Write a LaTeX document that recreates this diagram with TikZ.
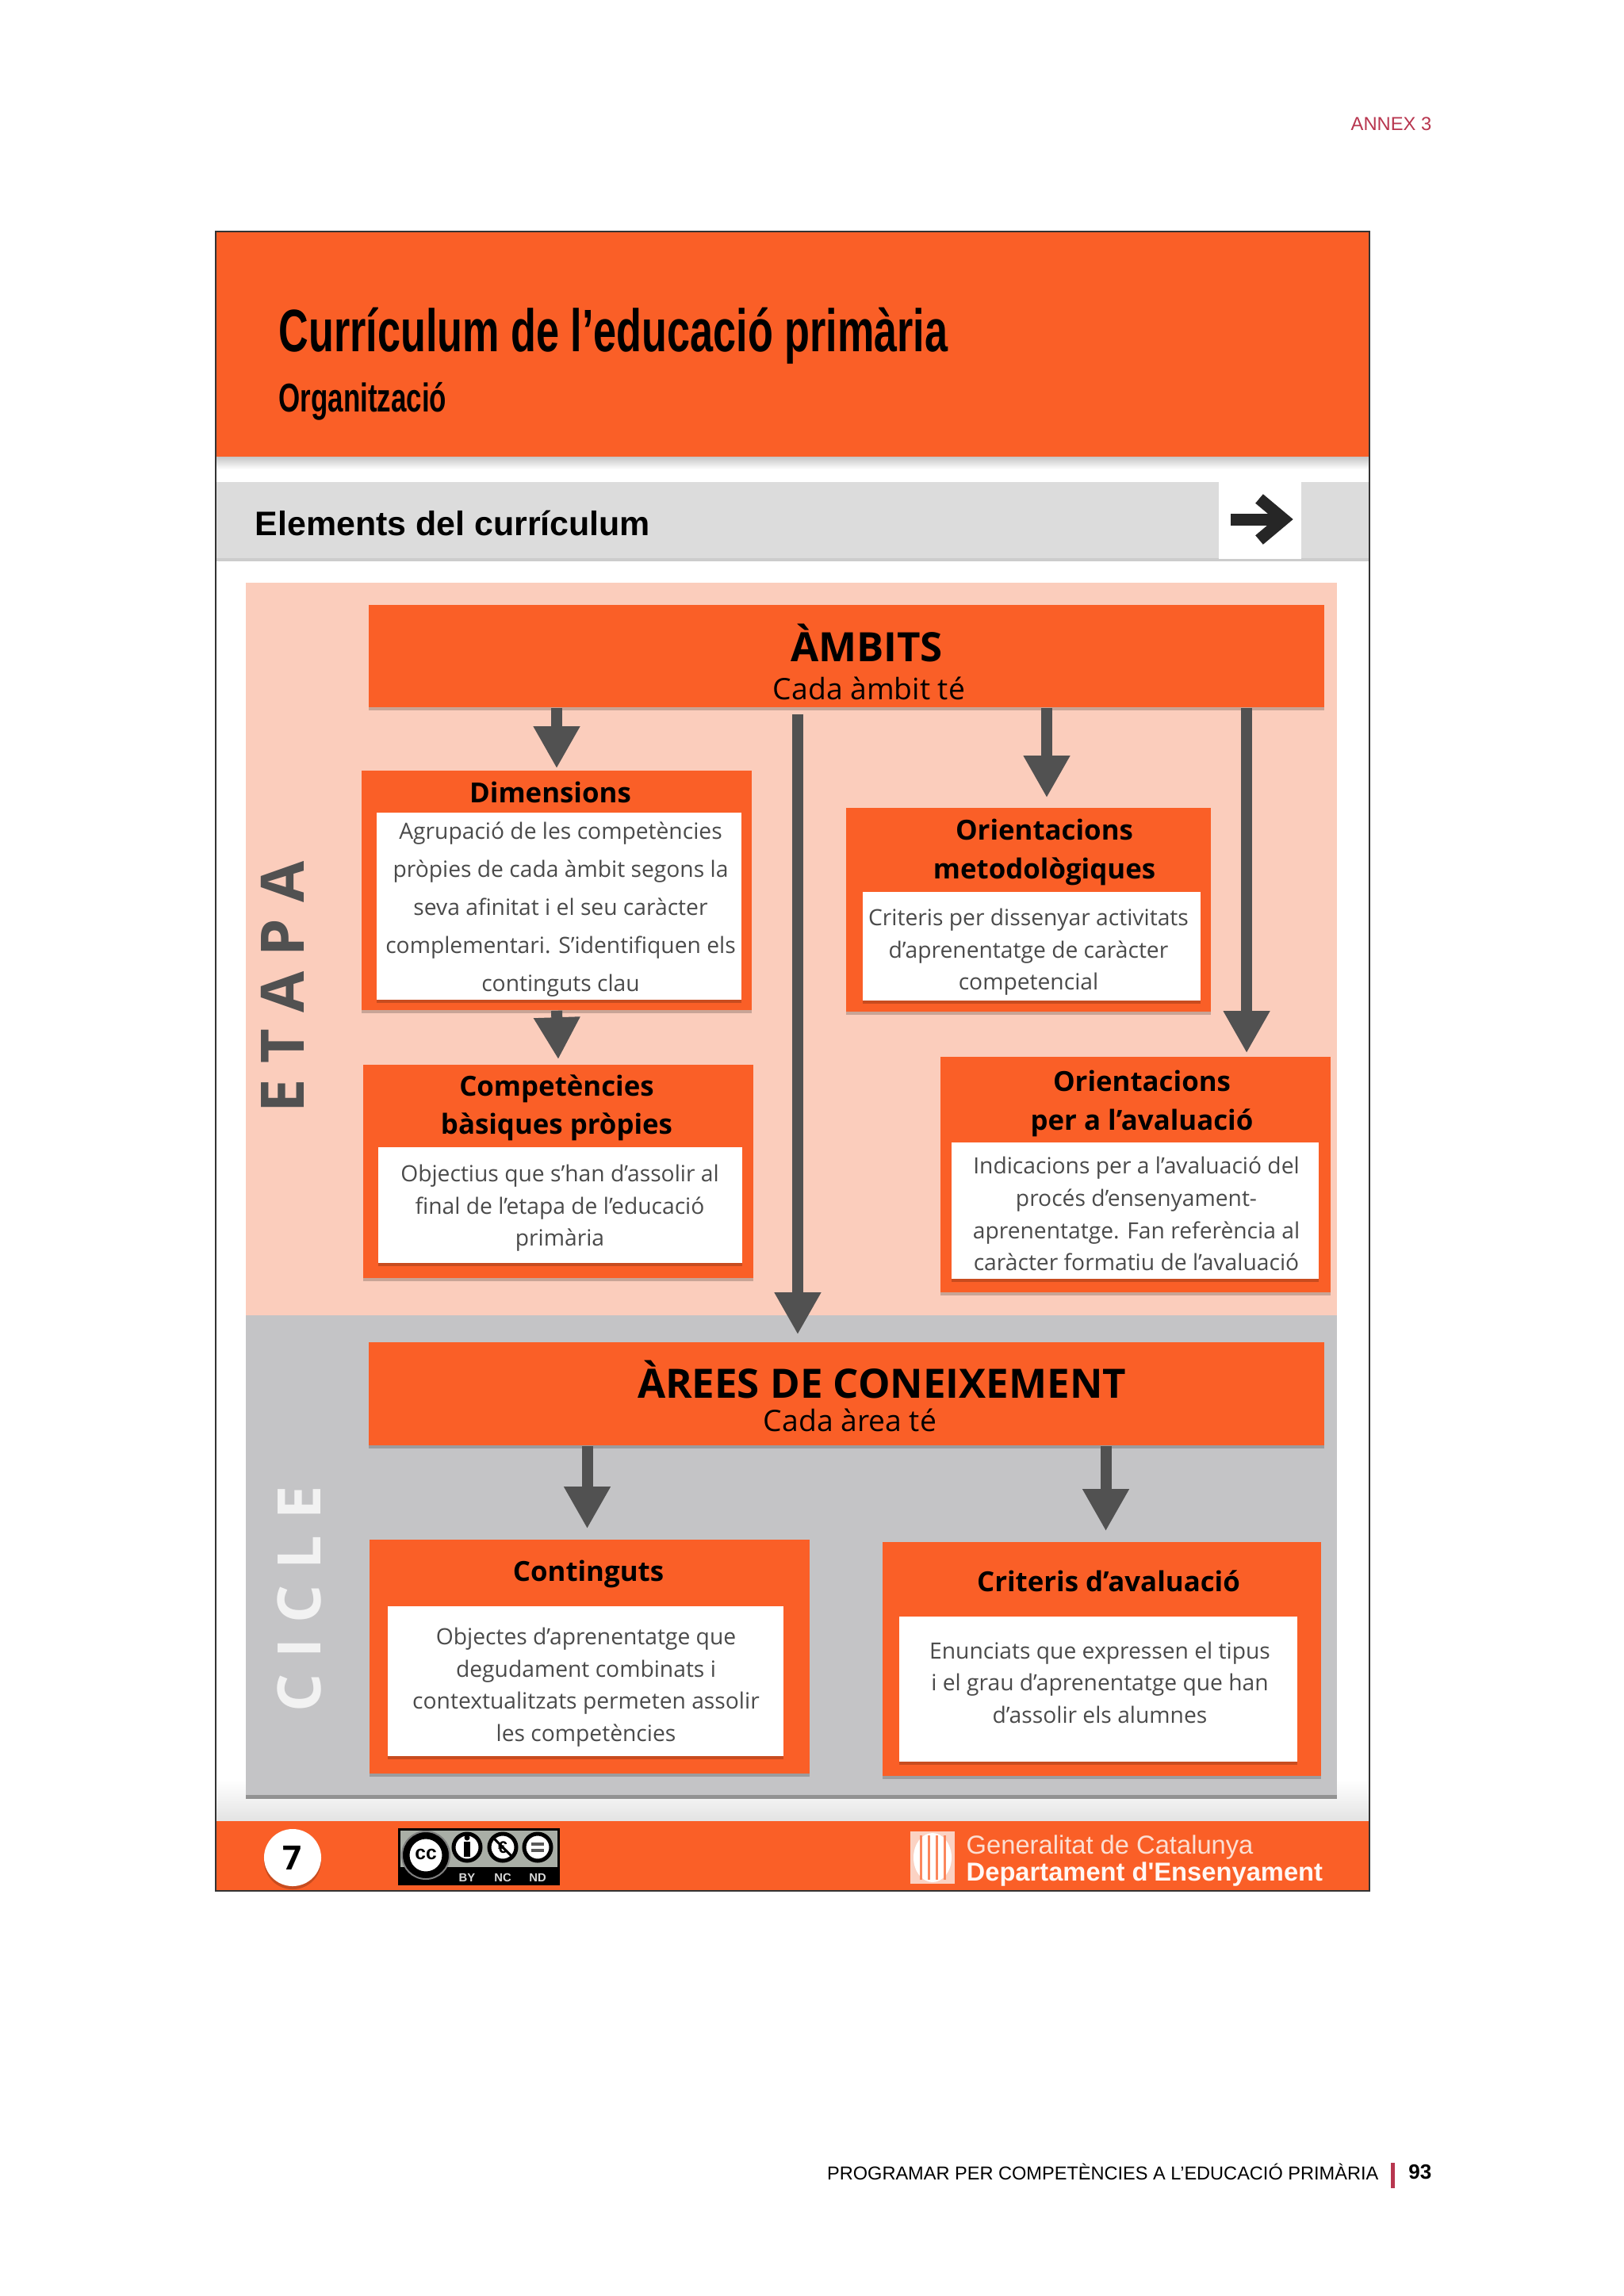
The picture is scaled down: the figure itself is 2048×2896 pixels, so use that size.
\documentclass[tikz,border=0pt]{standalone}
\usepackage{fontspec}
\setmainfont{Open Sans}
\newfontfamily\helvfont{Liberation Sans}
\newfontfamily\condfont[FakeStretch=0.69]{Liberation Sans}
\usetikzlibrary{arrows.meta,shadows}
\definecolor{curorange}{HTML}{FA5F27}
\definecolor{curpink}{HTML}{FBCDBC}
\definecolor{curgrey}{HTML}{C4C4C6}
\definecolor{barsilver}{HTML}{DCDCDC}
\definecolor{arrowgrey}{HTML}{515151}
\definecolor{bodygrey}{HTML}{4A4A4A}
\definecolor{annexred}{HTML}{B8364F}
\definecolor{badgegrey}{HTML}{A9AEA6}

\begin{document}
\begin{tikzpicture}[
    x=0.01cm, y=-0.01cm,
    softshadow/.style={drop shadow={shadow xshift=0cm, shadow yshift=-0.04cm, opacity=0.2, fill=black}},
    panel/.style={rectangle, inner sep=0pt},
    orangebox/.style={rectangle, fill=curorange, inner sep=0pt, softshadow},
    whitebox/.style={rectangle, fill=white, inner sep=0pt, softshadow},
    boxtitle/.style={align=center, inner sep=0pt, font=\fontsize{9.9}{13.7}\selectfont\bfseries, text=black},
    bodylong/.style={align=center, inner sep=0pt, text=bodygrey, font=\fontsize{8.03}{13.7}\selectfont},
    bodytext/.style={align=center, inner sep=0pt, text=bodygrey, font=\fontsize{8.03}{11.55}\selectfont},
    bigtitle/.style={inner sep=0pt, font=\fontsize{14.5}{16}\selectfont\bfseries, text=black},
    subtitle/.style={inner sep=0pt, font=\fontsize{10.6}{13}\selectfont, text=black},
    sideword/.style={inner sep=0pt, rotate=90, font=\fontsize{21.5}{24}\selectfont\bfseries},
    arrow/.style={-{Triangle[length=0.53cm,width=0.55cm]}, line width=0.14cm, draw=arrowgrey},
    badgetext/.style={inner sep=0pt, text=white!85!black, font=\helvfont\fontsize{4.2}{5}\selectfont\bfseries}
  ]
    \useasboundingbox (0,0) rectangle (2048,2896);
    \fill[white] (0,0) rectangle (2048,2896);

    % page furniture
    \node[anchor=east, inner sep=0pt, text=annexred, font=\helvfont\fontsize{6.75}{9}\selectfont] (annex) at (1806,156) {ANNEX 3};
    \node[anchor=east, inner sep=0pt, font=\helvfont\fontsize{6.7}{9}\selectfont] (running) at (1739,2739) {PROGRAMAR PER COMPETÈNCIES A L’EDUCACIÓ PRIMÀRIA};
    \fill[annexred] (1754,2728) rectangle (1759,2760);
    \node[anchor=east, inner sep=0pt, font=\helvfont\fontsize{7.4}{9}\selectfont\bfseries] (pagenum) at (1806,2740) {93};

    % header
    \shade[top color=gray!45, bottom color=white] (272,576) rectangle (1727,592);
    \node[panel, fill=curorange, minimum width=14.55cm, minimum height=2.84cm] (header) at (1000,434) {};
    \node[anchor=west, inner sep=0pt, font=\condfont\fontsize{21.5}{24}\selectfont\bfseries] (maintitle) at (351,424) {Currículum de l’educació primària};
    \node[anchor=west, inner sep=0pt, font=\condfont\fontsize{14.4}{16}\selectfont\bfseries] (orgtitle) at (351,506) {Organització};
    \node[panel, fill=barsilver, minimum width=14.55cm, minimum height=0.95cm, softshadow] (elembar) at (1000,656) {};
    \node[anchor=west, inner sep=0pt, font=\helvfont\fontsize{12.2}{14}\selectfont\bfseries] (elemtext) at (321,660) {Elements del currículum};
    \node[panel, fill=white, minimum width=1.04cm, minimum height=0.97cm] (nextbox) at (1589,656) {};
    \draw[line width=0.15cm, color=black!85] (1552,655) -- (1612,655);
    \draw[line width=0.15cm, color=black!85] (1588,629) -- (1619,655) -- (1588,681);

    % panels
    \shade[top color=white, bottom color=gray!22] (273,2245) rectangle (1726,2297);
    \node[panel, fill=curgrey, minimum width=13.76cm, minimum height=6.05cm, drop shadow={shadow xshift=0cm, shadow yshift=-0.05cm, opacity=0.4, fill=black}] (cicle) at (998,1961.5) {};
    \node[panel, fill=curpink, minimum width=13.76cm, minimum height=9.24cm] (etapa) at (998,1197) {};
    \node[sideword, text=arrowgrey] (etapaword) at (356,1245) {E T A P A};
    \node[sideword, text=white!95!black] (cicleword) at (377,2017) {C I C L E};

    % boxes of the stage
    \node[orangebox, minimum width=12.05cm, minimum height=1.29cm] (ambits) at (1067.5,827.5) {};
    \node[bigtitle] (ambitstitle) at (1093,811) {ÀMBITS};
    \node[subtitle] (ambitssub) at (1096,868) {Cada àmbit té};

    \node[orangebox, minimum width=4.92cm, minimum height=3.02cm] (dims) at (702,1123) {};
    \node[whitebox, minimum width=4.60cm, minimum height=2.36cm] (dimswhite) at (705,1143) {};
    \node[boxtitle] (dimstitle) at (694,999) {Dimensions};
    \node[bodylong] (dimstext) at (707,1147) {Agrupació de les competències\\pròpies de cada àmbit segons la\\seva afinitat i el seu caràcter\\complementari. S’identifiquen els\\continguts clau};

    \node[orangebox, minimum width=4.92cm, minimum height=2.69cm] (comp) at (704,1477.5) {};
    \node[whitebox, minimum width=4.59cm, minimum height=1.46cm] (compwhite) at (706.5,1520) {};
    \node[boxtitle] (comptitle) at (702,1397) {Competències\\bàsiques pròpies};
    \node[bodytext] (comptext) at (706,1524) {Objectius que s’han d’assolir al\\final de l’etapa de l’educació\\primària};

    \node[orangebox, minimum width=4.60cm, minimum height=2.57cm] (ometod) at (1297,1147.5) {};
    \node[whitebox, minimum width=4.26cm, minimum height=1.37cm] (ometodwhite) at (1301,1193.5) {};
    \node[boxtitle] (ometodtitle) at (1317,1075) {Orientacions\\metodològiques};
    \node[bodytext] (ometodtext) at (1297,1201) {Criteris per dissenyar activitats\\d’aprenentatge de caràcter\\competencial};

    \node[orangebox, minimum width=4.92cm, minimum height=2.97cm] (oaval) at (1432,1481.5) {};
    \node[whitebox, minimum width=4.63cm, minimum height=1.72cm] (oavalwhite) at (1431.5,1527) {};
    \node[boxtitle] (oavaltitle) at (1440,1392) {Orientacions\\per a l’avaluació};
    \node[bodytext] (oavaltext) at (1433,1531) {Indicacions per a l’avaluació del\\procés d’ensenyament-\\aprenentatge. Fan referència al\\caràcter formatiu de l’avaluació};

    % boxes of the cycle
    \node[orangebox, minimum width=12.05cm, minimum height=1.30cm] (arees) at (1067.5,1758) {};
    \node[bigtitle] (areestitle) at (1112,1740) {ÀREES DE CONEIXEMENT};
    \node[subtitle] (areessub) at (1072,1791) {Cada àrea té};

    \node[orangebox, minimum width=5.55cm, minimum height=2.95cm] (cont) at (743.5,2089.5) {};
    \node[whitebox, minimum width=4.99cm, minimum height=1.89cm] (contwhite) at (738.5,2120.5) {};
    \node[boxtitle] (conttitle) at (742,1985) {Continguts};
    \node[bodytext] (conttext) at (739,2128) {Objectes d’aprenentatge que\\degudament combinats i\\contextualitzats permeten assolir\\les competències};

    \node[orangebox, minimum width=5.53cm, minimum height=2.95cm] (crit) at (1389.5,2092.5) {};
    \node[whitebox, minimum width=5.02cm, minimum height=1.83cm] (critwhite) at (1385,2130.5) {};
    \node[boxtitle] (crittitle) at (1398,1994) {Criteris d’avaluació};
    \node[bodytext] (crittext) at (1387,2122) {Enunciats que expressen el tipus\\i el grau d’aprenentatge que han\\d’assolir els alumnes};

    \draw[arrow] (ambits.south -| dims.north) -- ([yshift=0.02cm]dims.north);
    \draw[arrow] (dims.south) -- ([yshift=0.06cm]comp.north);
    \draw[arrow] ([xshift=-0.615cm,yshift=-0.08cm]ambits.south) -- ([xshift=-0.615cm,yshift=0.09cm]arees.north);
    \draw[arrow] ([xshift=0.23cm]ometod.north |- ambits.south) -- ([xshift=0.23cm,yshift=0.12cm]ometod.north);
    \draw[arrow] ([xshift=1.40cm]oaval.north |- ambits.south) -- ([xshift=1.40cm,yshift=0.04cm]oaval.north);
    \draw[arrow] ([xshift=-0.03cm]arees.south -| cont.north) -- ([xshift=-0.03cm,yshift=0.13cm]cont.north);
    \draw[arrow] ([xshift=0.05cm]arees.south -| crit.north) -- ([xshift=0.05cm,yshift=0.13cm]crit.north);

    % footer
    \node[panel, fill=curorange, minimum width=14.55cm, minimum height=0.88cm] (footer) at (1000,2341) {};
    \node[circle, fill=white, minimum size=0.72cm, inner sep=0pt, softshadow, font=\fontsize{12}{14}\selectfont\bfseries] (pagebadge) at (369,2343) {7};

    \fill[black] (502,2306) rectangle (706,2378);
    \fill[badgegrey] (505,2309) rectangle (703,2355);
    \filldraw[fill=black, draw=gray, line width=0.02cm] (537,2340) circle[radius=30];
    \foreach \cx/\cy/\cr in {537/2340/23, 589/2330/17, 634/2330/17, 678/2330/17} {
      \filldraw[fill=white, draw=black, line width=0.05cm] (\cx,\cy) circle[radius=\cr];
    }
    \node[inner sep=0pt, font=\helvfont\fontsize{7}{8}\selectfont\bfseries] (ccmark) at (537,2339) {cc};
    \fill[black] (589,2318) circle[radius=3.5];
    \fill[black] (585,2323) rectangle (593,2342);
    \node[inner sep=0pt, font=\helvfont\fontsize{6}{7}\selectfont\bfseries] (ncmark) at (634,2330) {€};
    \draw[black, line width=0.03cm] (622,2318) -- (646,2342);
    \fill[gray!70!black] (670,2324) rectangle (686,2328);
    \fill[gray!70!black] (670,2332) rectangle (686,2336);
    \node[badgetext] (bymark) at (589,2368) {BY};
    \node[badgetext] (ncword) at (634,2368) {NC};
    \node[badgetext] (ndmark) at (678,2368) {ND};

    \fill[curpink!90!white] (1148,2310) rectangle (1204,2376);
    \fill[white] (1176,2343) ellipse[x radius=24, y radius=31];
    \foreach \sx in {1160,1170,1180,1190} {
      \fill[curorange!75!white] (\sx,2315) rectangle ++(3,56);
    }
    \node[anchor=west, inner sep=0pt, text=curpink!65!white, font=\helvfont\fontsize{9.3}{11}\selectfont] (genname) at (1218,2330) {Generalitat de Catalunya};
    \node[anchor=west, inner sep=0pt, text=white!95!curorange, font=\helvfont\fontsize{9.3}{11}\selectfont\bfseries] (deptname) at (1218,2364) {Departament d'Ensenyament};

    \draw[black!80, line width=0.02cm] (272,292) rectangle (1727,2385);
  \end{tikzpicture}
\end{document}
